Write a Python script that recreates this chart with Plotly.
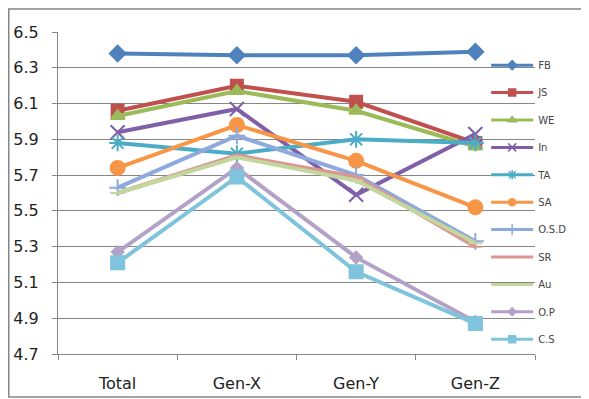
import plotly.graph_objects as go

categories = ["Total", "Gen-X", "Gen-Y", "Gen-Z"]
series_names = ["FB", "JS", "WE", "In", "TA", "SA", "O.S.D", "SR", "Au", "O.P", "C.S"]
FB = [6.38, 6.37, 6.37, 6.39]
JS = [6.06, 6.20, 6.11, 5.88]
WE = [6.03, 6.17, 6.06, 5.86]
In = [5.94, 6.07, 5.59, 5.93]
TA = [5.88, 5.82, 5.90, 5.88]
SA = [5.74, 5.98, 5.78, 5.52]
OSD = [5.63, 5.92, 5.70, 5.33]
SR = [5.60, 5.81, 5.69, 5.30]
Au = [5.60, 5.80, 5.67, 5.32]
OP = [5.27, 5.74, 5.24, 4.88]
CS = [5.21, 5.69, 5.16, 4.87]
y_ticks = [4.7, 4.9, 5.1, 5.3, 5.5, 5.7, 5.9, 6.1, 6.3, 6.5]

values = [FB, JS, WE, In, TA, SA, OSD, SR, Au, OP, CS]
colors = ["#4F81BD", "#C0504D", "#9BBB59", "#7F5FA8", "#4BACC6", "#F79646",
          "#8EA9DB", "#D99694", "#C3D69B", "#B3A2C7", "#7FC4DC"]
symbols = ["diamond", "square", "triangle-up", "x-thin-open", "asterisk-open", "circle",
           "cross-thin-open", "line-ew-open", "line-ew-open", "diamond", "square"]
sizes = [12, 12, 12, 14, 14, 14, 12, 10, 10, 9, 13]
legend_sizes = [7, 7, 7, 8, 8, 7, 8, 6, 6, 6, 7]

fig = go.Figure()
for i, (name, vals) in enumerate(zip(series_names, values)):
    fig.add_trace(go.Scatter(
        x=categories, y=vals, name=name, mode="lines+markers",
        legendgroup=name, showlegend=False,
        line=dict(color=colors[i], width=4),
        marker=dict(symbol=symbols[i], size=sizes[i], color=colors[i],
                    line=dict(color=colors[i], width=2)),
    ))
# legend entries (smaller symbols, as in the original legend)
for i, name in enumerate(series_names):
    fig.add_trace(go.Scatter(
        x=[None], y=[None], name=name, mode="lines+markers",
        legendgroup=name, showlegend=True,
        line=dict(color=colors[i], width=3),
        marker=dict(symbol=symbols[i], size=legend_sizes[i], color=colors[i],
                    line=dict(color=colors[i], width=1.5)),
    ))

fig.update_layout(
    width=581, height=391,
    margin=dict(l=50, r=54, t=24, b=45, autoexpand=False),
    paper_bgcolor="white", plot_bgcolor="white",
    font=dict(family="DejaVu Sans", color="#333333"),
    showlegend=True,
    legend=dict(x=0.8976, y=0.942, xanchor="left", yanchor="top",
                bgcolor="rgba(0,0,0,0)", font=dict(size=10, color="#444444"),
                traceorder="grouped", tracegroupgap=8.4, itemwidth=42,
                maxheight=390),
    xaxis=dict(type="category", range=[-0.5, len(categories) - 0.5],
               showgrid=False, showline=True, linecolor="#868686",
               linewidth=1, ticks="outside", ticklen=5, tickcolor="#868686",
               tickson="boundaries", tickfont=dict(size=16, color="#222222"),
               ticklabelstandoff=15, automargin=False),
    yaxis=dict(range=[4.7, 6.5], tickvals=y_ticks, tickformat=".1f",
               showgrid=True, gridcolor="#868686", gridwidth=1,
               showline=True, linecolor="#868686", ticks="outside", ticklen=5,
               tickcolor="#868686", tickfont=dict(size=16, color="#222222"),
               ticklabelstandoff=10, zeroline=False, automargin=False),
    shapes=[dict(type="rect", xref="paper", yref="paper", layer="above",
                 x0=(0.75 - 50)/477, x1=(575 - 50)/477,
                 y0=-43/322, y1=(346 - 1)/322,
                 line=dict(color="#868686", width=1.5))],
)
fig.write_html("out.html")
